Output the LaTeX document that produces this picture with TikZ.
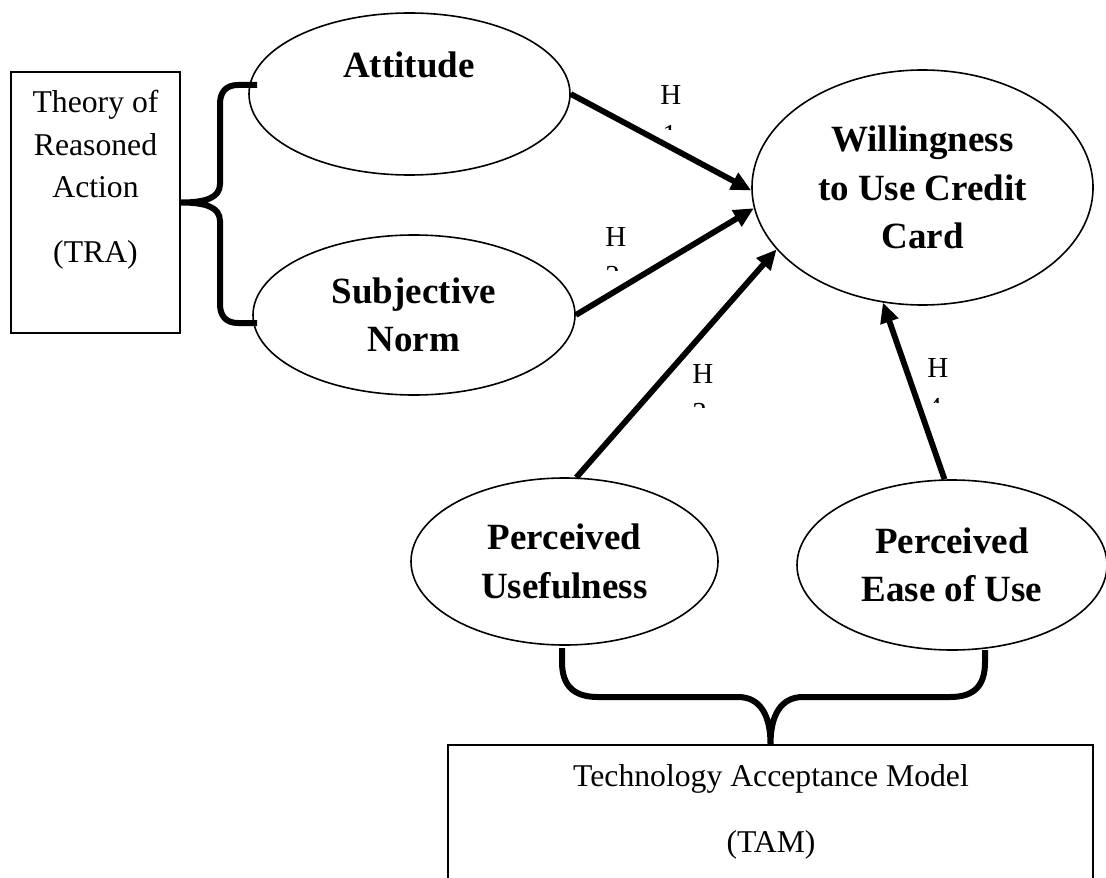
\documentclass[tikz,border=0pt]{standalone}
\usepackage{fontspec}
\setmainfont{Liberation Serif}
\usetikzlibrary{shapes.geometric,arrows.meta}

\begin{document}
\begin{tikzpicture}[x=0.5pt,y=-0.5pt,
    oval/.style={ellipse,draw,line width=0.8pt,inner sep=0pt,align=center,
      font=\fontsize{18.5pt}{24.25pt}\selectfont\bfseries},
    frame/.style={rectangle,draw,line width=1pt,inner sep=0pt},
    plain/.style={align=center,inner sep=0pt,font=\fontsize{15.85pt}{21.25pt}\selectfont},
    hlab/.style={anchor=base west,inner sep=0pt,font=\fontsize{14.5pt}{17pt}\selectfont},
    hyp/.style={-{Triangle[length=10pt,width=9pt]},line width=2.9pt},
    curly/.style={line width=3pt},
    >=stealth]

\useasboundingbox (0,0) rectangle (1106,877);
\clip (0,0) rectangle (1106,877);

% TRA side
\node[frame,minimum width=84.5pt,minimum height=130.5pt] (tra) at (95.5,202.5) {};
\node[plain] (tra-text) at (95.5,180) {Theory of\\Reasoned\\Action\\[11.25pt](TRA)};

\node[oval,minimum width=160.5pt,minimum height=81pt] (att) at (409.5,94) {};
\node[anchor=base,inner sep=0pt,font=\fontsize{18.5pt}{24.25pt}\selectfont\bfseries] (att-text) at (409,78) {Attitude};
\node[oval,minimum width=161pt,minimum height=80pt] (sub) at (414,315) {Subjective\\Norm};

% outcome
\node[oval,minimum width=170.5pt,minimum height=117.5pt] (wil) at (922.5,187.5) {Willingness\\to Use Credit\\Card};

% TAM side
\node[oval,minimum width=153.5pt,minimum height=83.5pt] (pu) at (564.5,561.5) {Perceived\\Usefulness};
\node[oval,minimum width=155pt,minimum height=85pt] (pe) at (952,565) {Perceived\\Ease of Use};
\node[frame,minimum width=322.5pt,minimum height=80pt] (tam) at (770.5,825) {};
\node[plain] (tam-text) at (771,812) {Technology Acceptance Model\\[11.75pt](TAM)};

% braces
\coordinate (att-hook) at (257,85);
\coordinate (sub-hook) at (257,323);
\draw[curly] (att-hook) -- (238,85) .. controls (226,85) and (220,92) .. (220,104)
  -- (220,184) .. controls (220,198) and (205,202.5) .. (tra.east)
  .. controls (205,202.5) and (220,207) .. (220,221)
  -- (220,304) .. controls (220,316) and (226,323) .. (238,323) -- (sub-hook);

\coordinate (pu-hook) at (562,648);
\coordinate (pe-hook) at (985,650);
\draw[curly] (pu-hook) -- (562,662) .. controls (562,686) and (574,697) .. (598,697)
  -- (738,697) .. controls (760,697) and (770.5,715) .. (tam.north)
  .. controls (770.5,715) and (781,697) .. (803,697)
  -- (950,697) .. controls (974,697) and (985,686) .. (985,662) -- (pe-hook);

% hypotheses
\draw[hyp] (att.east) -- (wil.181);
\draw[hyp] (sub.east) -- (wil.187);
\draw[hyp] (pu.82) -- (wil.203);
\draw[hyp] (pe.95) -- (wil.251);

\node[hlab] (h1) at (660,105) {H};
\begin{scope}
  \clip (650,118) rectangle (700,130);
  \node[hlab] (h1-num) at (662,145) {1};
\end{scope}
\node[hlab] (h2) at (605,246) {H};
\begin{scope}
  \clip (595,258) rectangle (640,270);
  \node[hlab] (h2-num) at (605,285) {2};
\end{scope}
\node[hlab] (h3) at (692,383) {H};
\begin{scope}
  \clip (682,395) rectangle (730,407);
  \node[hlab] (h3-num) at (692,422) {3};
\end{scope}
\node[hlab] (h4) at (927,377) {H};
\begin{scope}
  \clip (917,390) rectangle (965,402);
  \node[hlab] (h4-num) at (927,417) {4};
\end{scope}

\end{tikzpicture}
\end{document}
